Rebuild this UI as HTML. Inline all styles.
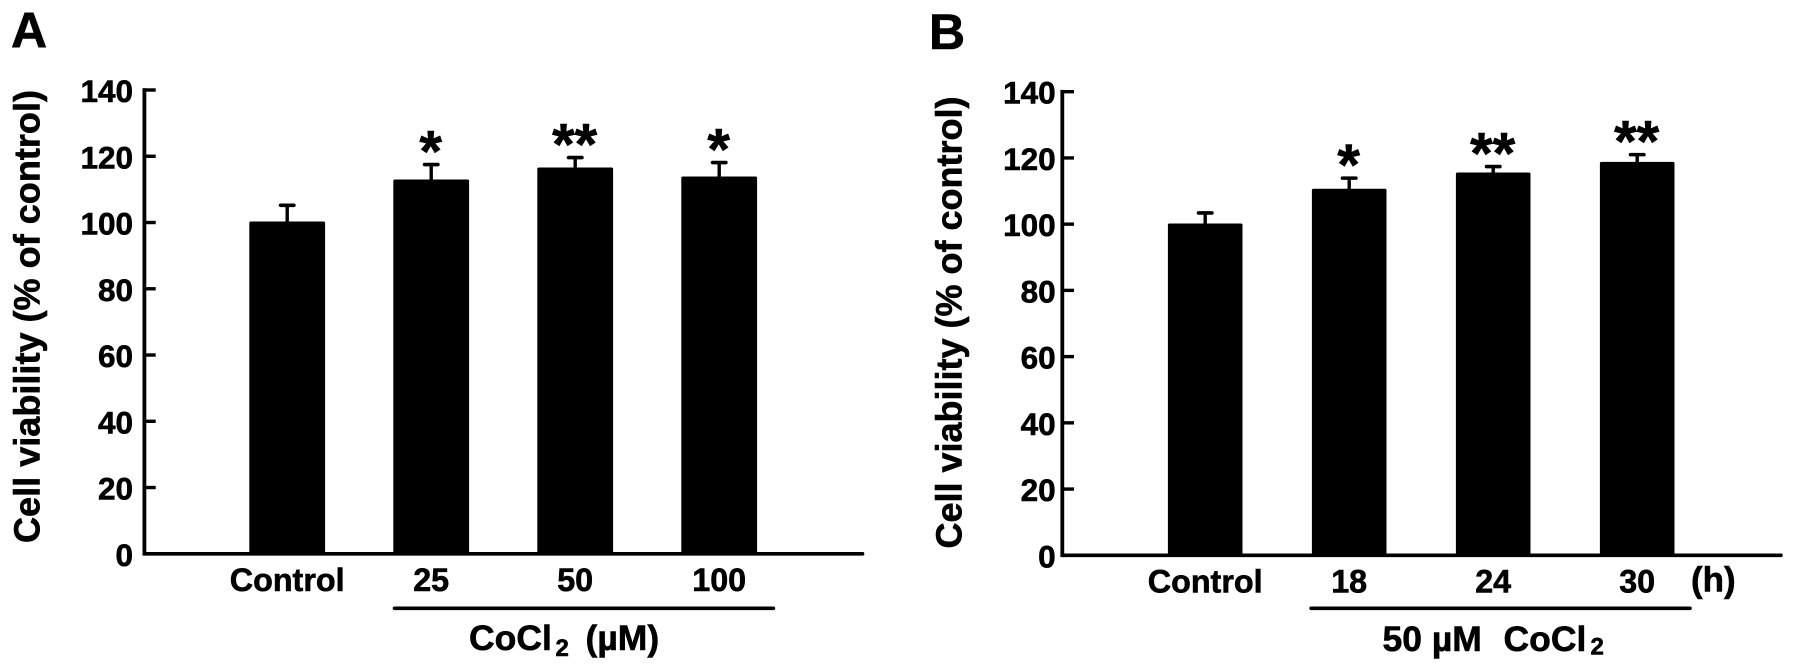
<!DOCTYPE html>
<html lang="en">
<head>
<meta charset="utf-8">
<title>Cell viability under CoCl2</title>
<style>
  html, body { margin: 0; padding: 0; background: #fff; }
  body { width: 1795px; height: 671px; overflow: hidden; }
  svg { display: block; }
  text { font-family: "Liberation Sans", sans-serif; font-weight: 700; fill: #000; stroke: #000; stroke-width: 0.6px; }
</style>
</head>
<body>
<svg id="figure" width="1795" height="671" viewBox="0 0 1795 671" xmlns="http://www.w3.org/2000/svg">
  <rect width="1795" height="671" fill="#fff"/>

  <text x="11" y="47.5" font-size="50">A</text>
  <text x="929" y="49" font-size="50">B</text>

  <text transform="translate(39.5 543) rotate(-90)" font-size="36.5" textLength="453" lengthAdjust="spacingAndGlyphs">Cell viability (% of control)</text>
  <text transform="translate(961.7 548.5) rotate(-90)" font-size="36.5" textLength="452" lengthAdjust="spacingAndGlyphs">Cell viability (% of control)</text>

  <rect x="392.7" y="606.5" width="382.5" height="3.6" rx="1.8" fill="#000"/>
  <rect x="1309.3" y="606.5" width="382.5" height="3.6" rx="1.8" fill="#000"/>

  <text x="469" y="650" font-size="35.5">CoCl<tspan font-size="24" x="555.5" dy="6">2</tspan><tspan x="585.5" dy="-6">(µM)</tspan></text>
  <text x="1382.5" y="651" font-size="35.5">50 µM<tspan x="1503.5">CoCl</tspan><tspan font-size="24" x="1590.5" dy="3.5">2</tspan></text>
  <text x="1691" y="591.5" font-size="35">(h)</text>

  <g id="panel-a"></g>
  <g id="panel-b"></g>
</svg>

<script>
// Shared y-axis ticks
var yTicks = [0, 20, 40, 60, 80, 100, 120, 140];

// Panel A: dose response
var panelACategories = ["Control", "25", "50", "100"];
var panelAValues = [100.3, 113, 116.6, 113.9];
var panelAErrorTops = [105.2, 117.5, 119.6, 118.1];
var panelAMarks = ["", "*", "**", "*"];

// Panel B: time course
var panelBCategories = ["Control", "18", "24", "30"];
var panelBValues = [100.2, 110.7, 115.6, 118.8];
var panelBErrorTops = [103.4, 113.9, 117.4, 121];
var panelBMarks = ["", "*", "**", "**"];

var SVG_NS = "http://www.w3.org/2000/svg";

function makeRect(parent, x, y, w, h, r) {
  var el = document.createElementNS(SVG_NS, "rect");
  el.setAttribute("x", x);
  el.setAttribute("y", y);
  el.setAttribute("width", w);
  el.setAttribute("height", h);
  if (r) el.setAttribute("rx", r);
  el.setAttribute("fill", "#000");
  parent.appendChild(el);
  return el;
}

function makeText(parent, x, y, size, anchor, content) {
  var el = document.createElementNS(SVG_NS, "text");
  el.setAttribute("x", x);
  el.setAttribute("y", y);
  el.setAttribute("font-size", size);
  el.setAttribute("text-anchor", anchor);
  el.textContent = content;
  parent.appendChild(el);
  return el;
}

function drawPanel(root, frame, categories, values, errorTops, marks) {
  function yScale(v) {
    return frame.y0 + (frame.y140 - frame.y0) * v / 140;
  }
  function xScale(i) {
    return frame.firstCenter + i * frame.step;
  }

  var yAxis = makeRect(root, frame.axisX - 1.9, yScale(140) - 1.8, 3.8, yScale(0) - yScale(140) + 3.6);
  
  

  var xAxis = makeRect(root, frame.axisX - 1.9, yScale(0) - 1.8, frame.axisEnd - frame.axisX + 1.9, 3.6, 1.5);
  
  

  yTicks.forEach(function (t) {
    var tick = makeRect(root, frame.axisX, yScale(t) - 1.7, frame.tickEnd - frame.axisX, 3.4);
    
    

    var label = makeText(root, frame.tickLabelRight, yScale(t) + 12, 31.5, "end", String(t));
    
    
  });

  categories.forEach(function (name, i) {
    var cx = xScale(i);

    var stem = makeRect(root, cx - 1.7, yScale(errorTops[i]), 3.4, yScale(values[i]) - yScale(errorTops[i]) + 2);
    
    

    var cap = makeRect(root, cx - 8.5, yScale(errorTops[i]) - 1.8, 17, 3.6, 1.8);
    
    

    var bar = makeRect(root, cx - frame.barWidth / 2, yScale(values[i]), frame.barWidth, yScale(0) - yScale(values[i]) + 1.5, 1.5);
    
    

    var catLabel = makeText(root, cx, frame.catBaseline, 32.3, "middle", name);
    
    

    if (marks[i]) {
      var mark = makeText(root, cx - 0.5, yScale(errorTops[i]) - 25 + 32, 58, "middle", marks[i]);
      
      
    }
  });
}

drawPanel(document.getElementById("panel-a"),
  { y0: 553.8, y140: 90, axisX: 144.4, axisEnd: 864.3, tickEnd: 155.7, tickLabelRight: 133,
    firstCenter: 287.2, step: 144, barWidth: 75.8, catBaseline: 591 },
  panelACategories, panelAValues, panelAErrorTops, panelAMarks);

drawPanel(document.getElementById("panel-b"),
  { y0: 555.3, y140: 91.7, axisX: 1062.3, axisEnd: 1782.7, tickEnd: 1074, tickLabelRight: 1055.7,
    firstCenter: 1205.2, step: 144, barWidth: 74.6, catBaseline: 592.5 },
  panelBCategories, panelBValues, panelBErrorTops, panelBMarks);
</script>
</body>
</html>
